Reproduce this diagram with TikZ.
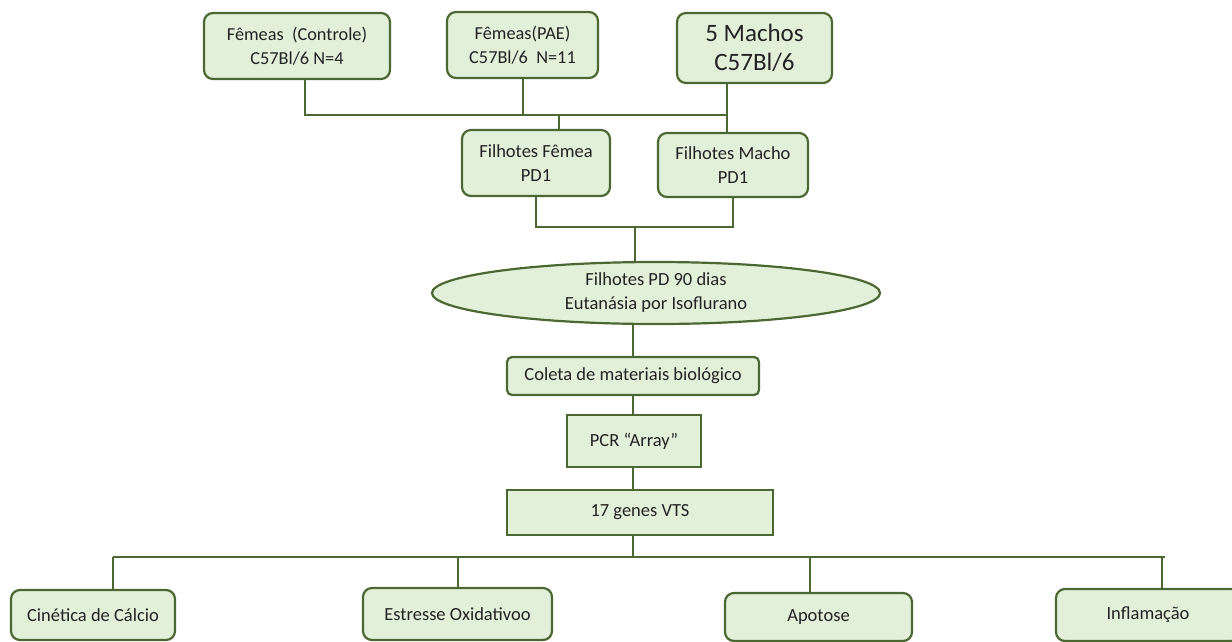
\documentclass[tikz,border=0pt]{standalone}
\usepackage{fontspec}
\setmainfont{Carlito}
\usetikzlibrary{shapes.geometric}
\definecolor{boxfill}{RGB}{226,239,217}
\definecolor{boxline}{RGB}{76,104,50}
\definecolor{txt}{RGB}{35,35,35}
\begin{document}
\begin{tikzpicture}[x=1pt,y=-1pt,
  box/.style={rectangle,rounded corners=9pt,draw=boxline,line width=2.2pt,fill=boxfill,
    text=txt,align=center,inner sep=0pt,font=\fontsize{18.5}{24}\selectfont},
  flatbox/.style={box,rounded corners=0pt},
  oval/.style={ellipse,draw=boxline,line width=2.2pt,fill=boxfill,text=txt,align=center,
    inner sep=0pt,font=\fontsize{18.5}{24}\selectfont},
  link/.style={draw=boxline,line width=1.7pt}]
\useasboundingbox (0,0) rectangle (1232,641);
% parents
\node[box,minimum width=186pt,minimum height=66pt,font=\fontsize{18.3}{24}\selectfont] (ctrl) at (297,46) {Fêmeas~~(Controle)\\C57Bl/6 N=4};
\node[box,minimum width=151pt,minimum height=66pt,font=\fontsize{18.3}{24}\selectfont] (pae) at (522.5,45) {Fêmeas(PAE)\\C57Bl/6~~N=11};
\node[box,minimum width=155pt,minimum height=70pt,font=\fontsize{25}{29}\selectfont] (machos) at (754.5,48) {5 Machos\\C57Bl/6};
% pups
\node[box,minimum width=148pt,minimum height=66pt] (ffem) at (536,163) {Filhotes Fêmea\\PD1};
\node[box,minimum width=150pt,minimum height=64pt] (fmac) at (733,165) {Filhotes Macho\\PD1};
\node[oval,minimum width=448pt,minimum height=62pt] (euta) at (656,293) {Filhotes PD 90 dias\\Eutanásia por Isoflurano};
\node[box,rounded corners=5pt,minimum width=252pt,minimum height=38pt] (coleta) at (633,376) {Coleta de materiais biológico};
\node[flatbox,minimum width=134pt,minimum height=52pt] (pcr) at (634,441) {PCR “Array”};
\node[flatbox,minimum width=266pt,minimum height=45pt] (genes) at (640,512.5) {17 genes VTS};
% groups of genes
\node[box,minimum width=164pt,minimum height=50pt] (calc) at (93,615) {Cinética de Cálcio};
\node[box,minimum width=189pt,minimum height=52pt] (oxi) at (457.5,614) {Estresse Oxidativoo};
\node[box,minimum width=187pt,minimum height=48pt] (apo) at (818.5,617) {Apotose};
\node[box,minimum width=184pt,minimum height=52pt] (infl) at (1148,615) {Inflamação};
% junctions
\coordinate (t1) at (305,115);
\coordinate (t2) at (523,115);
\coordinate (t3) at (559,115);
\coordinate (t4) at (727,115);
\coordinate (m1) at (536,227);
\coordinate (m2) at (635,227);
\coordinate (m3) at (733,227);
\coordinate (g0) at (633,557);
\coordinate (g1) at (113,557);
\coordinate (g2) at (458,557);
\coordinate (g3) at (810,557);
\coordinate (g4) at (1162,557);
\coordinate (g5) at (1165,557);
\draw[link] (ctrl.south -| t1) -- (t1) -- (t4);
\draw[link] (machos.south -| t4) -- (fmac.north -| t4);
\draw[link] (pae.south -| t2) -- (t2);
\draw[link] (t3) -- (ffem.north -| t3);
\draw[link] (ffem.south -| m1) -- (m1) -- (m3) -- (fmac.south -| m3);
\draw[link] (m2) -- (euta.north -| m2);
\draw[link] (euta.south -| g0) -- (coleta.north -| g0);
\draw[link] (coleta.south -| g0) -- (pcr.north -| g0);
\draw[link] (pcr.south -| g0) -- (genes.north -| g0);
\draw[link] (genes.south -| g0) -- (g0);
\draw[link] (g1) -- (g5);
\draw[link] (g1) -- (calc.north -| g1);
\draw[link] (g2) -- (oxi.north -| g2);
\draw[link] (g3) -- (apo.north -| g3);
\draw[link] (g4) -- (infl.north -| g4);
\end{tikzpicture}
\end{document}
